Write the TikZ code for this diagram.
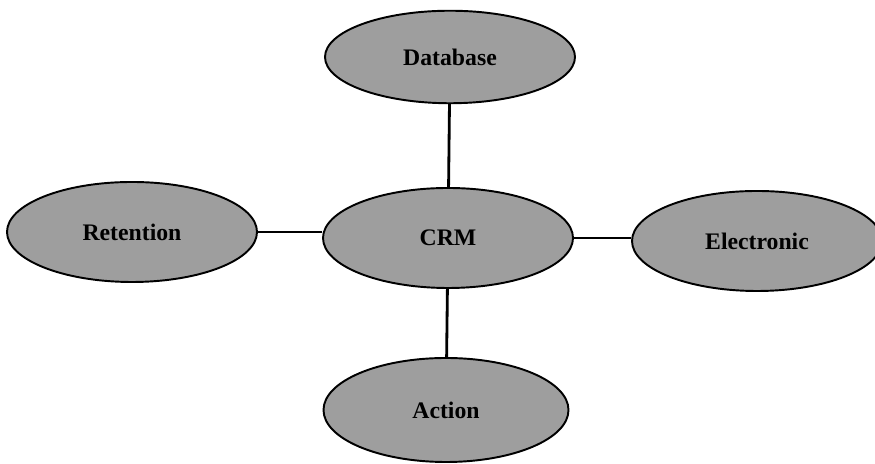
\documentclass[tikz,border=0pt]{standalone}
\usepackage{fontspec}
\setmainfont{Liberation Serif}
\usepackage{tikz}
\usetikzlibrary{shapes.geometric,positioning}

\begin{document}
\begin{tikzpicture}[font=\fontsize{13.5}{16}\selectfont\bfseries,
 bubble/.style={ellipse,draw,line width=1.1pt,fill=black!38,minimum width=5cm,minimum height=2cm,inner sep=0pt},
 link/.style={line width=1.6pt}]
\useasboundingbox[fill=white](0,0) rectangle (17.5,9.28);
% hub and its four spokes
\node[bubble](CRM) at (8.96,4.52){CRM};
\node[bubble,minimum height=1.85cm](Database) at (9.0,8.14){Database};
\node[bubble](Retention) at (2.64,4.64){Retention};
\node[bubble](Electronic) at (15.14,4.46){Electronic};
\node[bubble,minimum width=4.9cm,minimum height=2.08cm](Action) at (8.92,1.08){Action};
\draw[link](Database)--(CRM);
\draw[link](Retention.east)--(CRM.west |- Retention.east);
\draw[link](CRM.east)--(CRM.east -| Electronic.west);
\draw[link](CRM)--(Action);
\end{tikzpicture}
\end{document}
